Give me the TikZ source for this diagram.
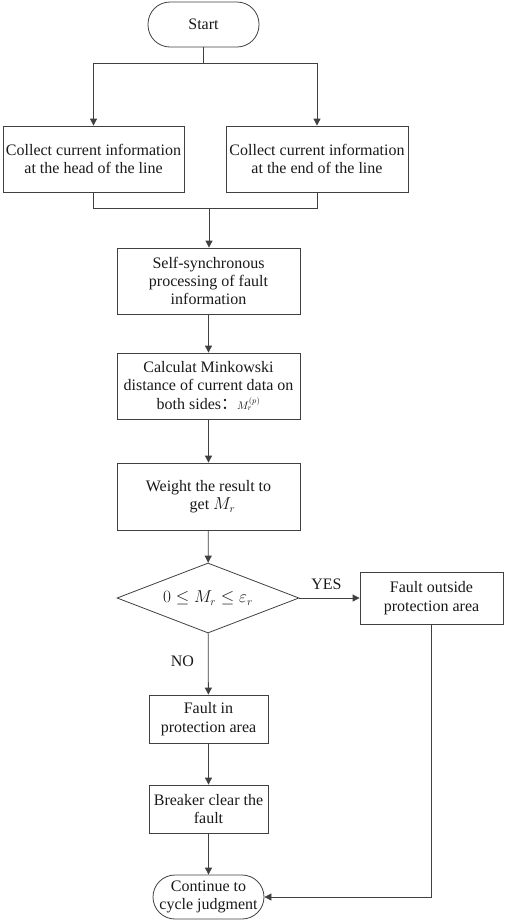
\documentclass[tikz,border=0pt]{standalone}
\usepackage{fontspec}
\setmainfont{Liberation Serif}
\newfontfamily\cjk{Noto Sans CJK SC}
\usetikzlibrary{shapes.geometric,arrows.meta}
\begin{document}
\begin{tikzpicture}[x=1pt,y=-1pt,
  every node/.style={font=\fontsize{16}{18.4}\selectfont, text=black!90},
  proc/.style={draw=black!75, line width=0.8pt, rectangle, align=center, inner sep=0pt},
  term/.style={draw=black!75, line width=0.8pt, rectangle, rounded corners=22pt, align=center, inner sep=0pt},
  dec/.style={draw=black!75, line width=0.8pt, diamond, aspect=2.6, inner sep=0pt, minimum width=182pt, minimum height=70pt},
  conn/.style={draw=black!75, line width=0.8pt},
  arr/.style={conn, -{Triangle[length=7pt,width=7pt]}},
  lbl/.style={inner sep=0pt}]
\useasboundingbox (0,0) rectangle (505,922);
\node[term, minimum width=111pt, minimum height=45pt] (start) at (203.5,24.5) {Start};
\node[proc, minimum width=181pt, minimum height=66pt] (head) at (93.5,159) {Collect current information\\at the head of the line};
\node[proc, minimum width=182pt, minimum height=66pt] (tail) at (317,159) {Collect current information\\at the end of the line};
\node[proc, minimum width=183pt, minimum height=66pt] (sync) at (208.5,281) {Self-synchronous\\processing of fault\\information};
\node[proc, minimum width=183pt, minimum height=66pt] (calc) at (208.5,386) {Calculat Minkowski\\distance of current data on\\both sides\smash{\cjk ：}$\scriptstyle M_r^{(p)}$};
\node[proc, minimum width=183pt, minimum height=67pt] (weight) at (208.5,496.5) {Weight the result to\\\ \ get $M_r$};
\node[dec] (judge) at (208,598) {$0\le M_r\le \varepsilon_r$};
\node[proc, minimum width=143pt, minimum height=52pt] (outside) at (431.5,598) {Fault outside\\protection area};
\node[proc, minimum width=119pt, minimum height=48pt] (inside) at (208.5,719) {Fault in\\protection area};
\node[proc, minimum width=119pt, minimum height=48pt] (breaker) at (208.5,809) {Breaker clear the\\fault};
\node[term, minimum width=111pt, minimum height=44pt] (cont) at (208.5,897) {Continue to\\cycle judgment};
\coordinate (split) at (203.5,63);
\coordinate (merge) at (209,208);
\draw[conn] (start.south) -- (split);
\draw[arr] (split) -| (head.north);
\draw[arr] (split) -| (tail.north);
\draw[conn] (head.south) |- (merge);
\draw[conn] (tail.south) |- (merge);
\draw[arr] (merge) -- (merge |- sync.north);
\draw[arr] (sync) -- (calc);
\draw[arr] (calc) -- (weight);
\draw[arr] (weight) -- (judge);
\draw[arr] (judge) -- node[lbl, pos=0.45, above=8pt] {YES} (outside);
\draw[arr] (judge) -- node[lbl, pos=0.45, left=14pt] {NO} (inside);
\draw[arr] (inside) -- (breaker);
\draw[arr] (breaker) -- (cont);
\draw[arr] (outside.south) |- (cont.east);
\end{tikzpicture}
\end{document}
